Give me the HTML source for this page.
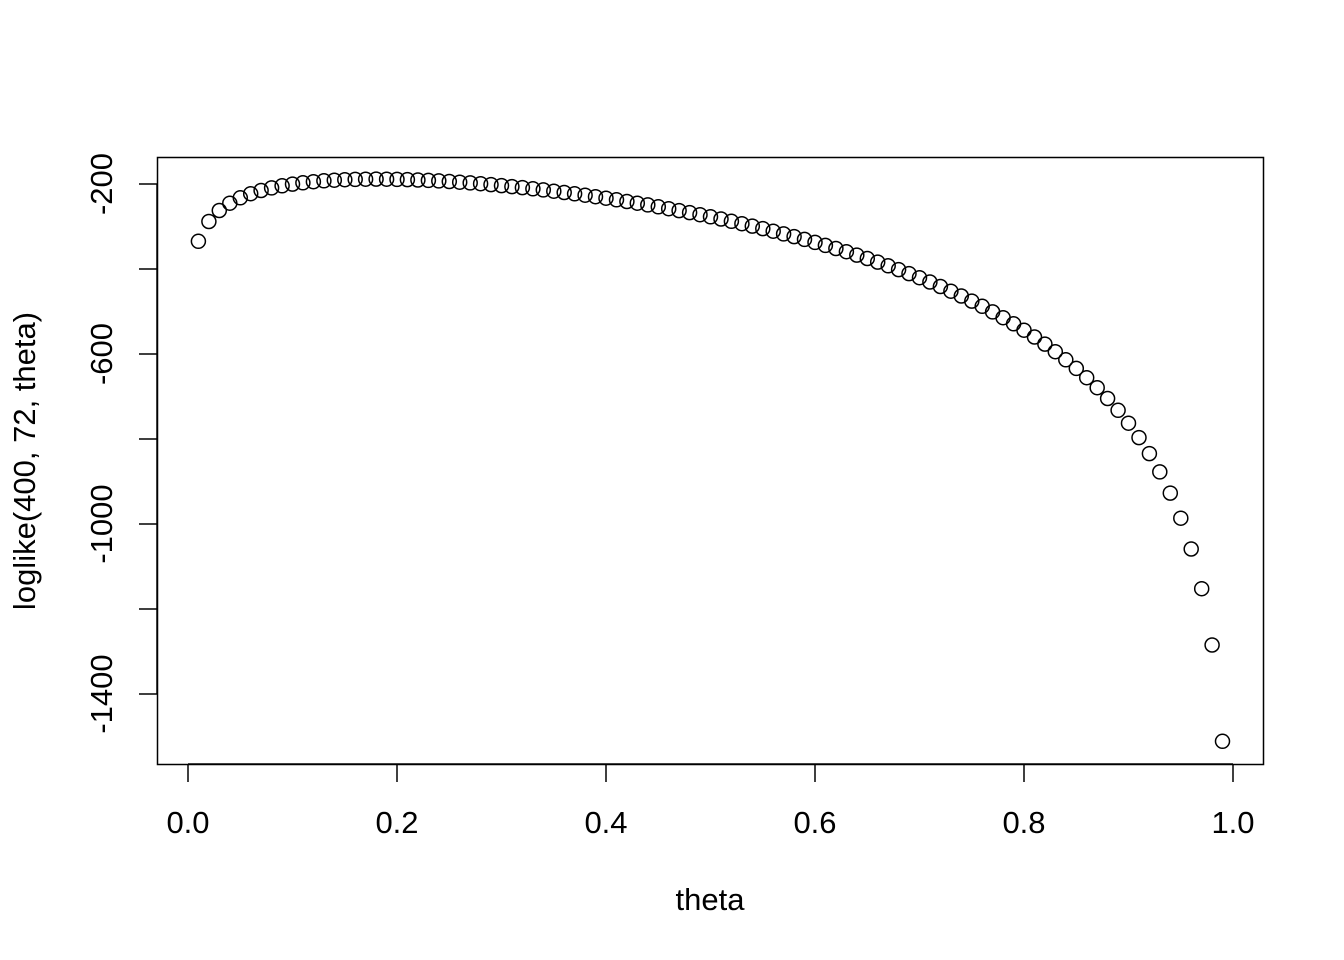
<!DOCTYPE html>
<html><head><style>body{margin:0;background:#fff}svg{display:block}text{font-family:"Liberation Sans",sans-serif;font-size:31px;fill:#000}</style></head>
<body>
<svg id="s" width="1344" height="960" xmlns="http://www.w3.org/2000/svg">
<rect x="157.5" y="157.5" width="1106" height="607" fill="none" stroke="#000" stroke-width="1.5"/>
<g stroke="#000" stroke-width="1.5">
<line x1="188" y1="764" x2="1233" y2="764"/>
<line x1="188" y1="764" x2="188" y2="782"/><line x1="397" y1="764" x2="397" y2="782"/><line x1="606" y1="764" x2="606" y2="782"/><line x1="815" y1="764" x2="815" y2="782"/><line x1="1024" y1="764" x2="1024" y2="782"/><line x1="1233" y1="764" x2="1233" y2="782"/>
<line x1="157" y1="184" x2="157" y2="694"/>
<line x1="139" y1="184" x2="157" y2="184"/><line x1="139" y1="269" x2="157" y2="269"/><line x1="139" y1="354" x2="157" y2="354"/><line x1="139" y1="439" x2="157" y2="439"/><line x1="139" y1="524" x2="157" y2="524"/><line x1="139" y1="609" x2="157" y2="609"/><line x1="139" y1="694" x2="157" y2="694"/>
</g>
<g text-anchor="middle">
<text x="188" y="833">0.0</text><text x="397" y="833">0.2</text><text x="606" y="833">0.4</text><text x="815" y="833">0.6</text><text x="1024" y="833">0.8</text><text x="1233" y="833">1.0</text>
<text x="710" y="910">theta</text>
<text transform="translate(112,184) rotate(-90)">-200</text>
<text transform="translate(112,354) rotate(-90)">-600</text>
<text transform="translate(112,524) rotate(-90)">-1000</text>
<text transform="translate(112,694) rotate(-90)">-1400</text>
<text transform="translate(35,461) rotate(-90)">loglike(400, 72, theta)</text>
</g>
<g id="p" fill="none" stroke="#000" stroke-width="1.5"></g>
</svg>
<script>
var g=document.getElementById('p'),h='';
for(var i=1;i<=99;i++){var t=i/100;var l=72*Math.log(t)+328*Math.log(1-t);
var x=188+1045*t,y=184+(-200-l)*0.425;
h+='<circle cx="'+x.toFixed(1)+'" cy="'+y.toFixed(1)+'" r="7"/>';}
g.innerHTML=h;
</script>
</body></html>
